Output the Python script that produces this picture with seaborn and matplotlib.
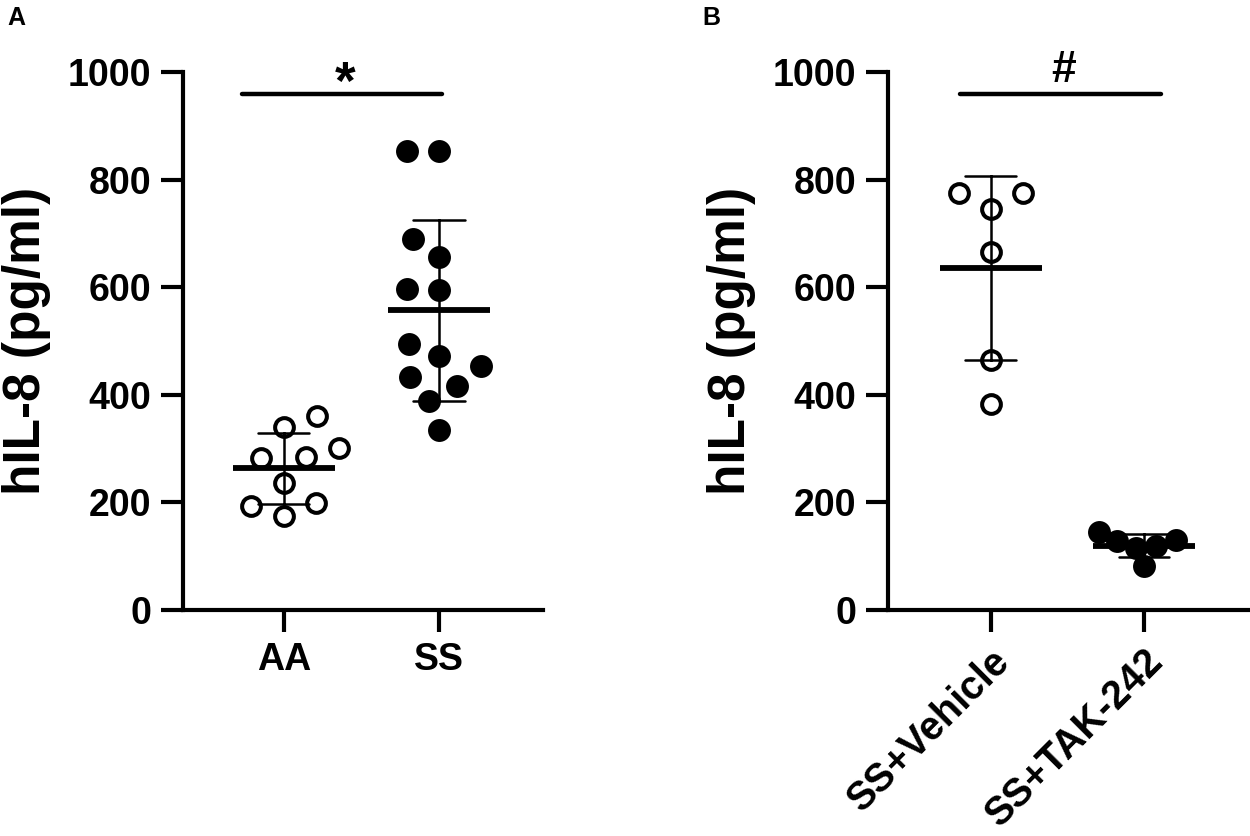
import numpy as np
import pandas as pd
import matplotlib
matplotlib.use("Agg")
import matplotlib.pyplot as plt
import seaborn as sns

# ---- data ----
aa_vals = [360, 340, 302, 282, 284, 236, 199, 193, 174]
ss_vals = [853, 853, 690, 657, 594, 597, 495, 453, 473, 434, 416, 388, 334]
veh_vals = [746, 776, 776, 666, 464, 382]
tak_vals = [119, 145, 128, 130, 115, 82]

groups_a = ["AA", "SS"]
groups_b = ["SS+Vehicle", "SS+TAK-242"]
y_ticks = [0, 200, 400, 600, 800, 1000]
y_label = "hIL-8 (pg/ml)"
sig_a = "*"
sig_b = "#"

df_a = pd.DataFrame({"group": [groups_a[0]] * len(aa_vals) + [groups_a[1]] * len(ss_vals),
                     "val": aa_vals + ss_vals})
df_b = pd.DataFrame({"group": [groups_b[0]] * len(veh_vals) + [groups_b[1]] * len(tak_vals),
                     "val": veh_vals + tak_vals})

sns.set_theme(style="ticks")
plt.rcParams["font.family"] = ["Liberation Sans", "DejaVu Sans"]
plt.rcParams["font.weight"] = "bold"
for k in ["text.color", "axes.labelcolor", "xtick.color", "ytick.color", "axes.edgecolor"]:
    plt.rcParams[k] = "black"

W, H = 1250, 836
fig = plt.figure(figsize=(W / 100, H / 100), dpi=100)

def px_axes(left, top, right, bottom):
    return fig.add_axes([left / W, 1 - bottom / H, (right - left) / W, (bottom - top) / H])

axA = px_axes(183, 72, 543, 610)
axB = px_axes(888, 72, 1250, 610)

LW = 3.0
swarm_colls = []  # (collection, final size)

def draw(ax, df, order, sig, sig_x0, sig_x1, xlim, rotate, layout_sizes, sig_y, sig_fs):
    ax.set_xlim(*xlim)
    for i, g in enumerate(order):
        sub = df[df.group == g]
        before = len(ax.collections)
        if i == 0:
            sns.swarmplot(data=sub, x="group", y="val", order=order, ax=ax,
                          color="white", edgecolor="black", linewidth=2.9,
                          size=layout_sizes[i], zorder=3)
            final = 13.5
        else:
            sns.swarmplot(data=sub, x="group", y="val", order=order, ax=ax,
                          color="black", edgecolor="black", linewidth=0,
                          size=layout_sizes[i], zorder=3)
            final = 16.5
        for c in ax.collections[before:]:
            swarm_colls.append((c, final))
    sns.pointplot(data=df, x="group", y="val", order=order, ax=ax, errorbar="sd",
                  color="black", linestyle="none", marker="_", markersize=74,
                  markeredgewidth=4.2, capsize=0.33, err_kws={"linewidth": 1.8}, zorder=5)
    ax.set_ylim(0, 1000)
    ax.set_yticks(y_ticks)
    ax.set_xlim(*xlim)
    for s in ["top", "right"]:
        ax.spines[s].set_visible(False)
    for s in ["left", "bottom"]:
        ax.spines[s].set_linewidth(LW)
        ax.spines[s].set_color("black")
    ax.tick_params(axis="both", width=LW, length=16, color="black", labelsize=27, pad=7)
    ax.set_xlabel("")
    ax.set_ylabel(y_label, fontsize=37, fontweight="bold", labelpad=12)
    for lab in ax.get_yticklabels() + ax.get_xticklabels():
        lab.set_fontweight("bold")
    if rotate:
        for lab in ax.get_xticklabels():
            lab.set_rotation(45)
            lab.set_ha("right")
            lab.set_rotation_mode("anchor")
            lab.set_fontsize(28.5)
    ax.plot([sig_x0, sig_x1], [960, 960], color="black", lw=3.2, clip_on=False)
    ax.text((sig_x0 + sig_x1) / 2 + 0.02, sig_y, sig, ha="center", va="center",
            fontsize=sig_fs, fontweight="bold", clip_on=False)

draw(axA, df_a, groups_a, sig_a, -0.27, 1.02, (-0.65, 1.67), False, (21, 22), 975, 38)
draw(axB, df_b, groups_b, sig_b, -0.2, 1.11, (-0.67, 1.69), True, (22, 14), 1002, 32)

fig.text(7 / W, 1 - 25 / H, "A", fontsize=18, fontweight="bold")
fig.text(702 / W, 1 - 25 / H, "B", fontsize=18, fontweight="bold")

# lay the swarms out with wide spacing, then freeze positions and shrink markers
fig.canvas.draw()
for c, final in swarm_colls:
    offs = np.array(c.get_offsets()).copy()
    if "draw" in c.__dict__:
        del c.draw
    c.set_offsets(offs)
    c.set_sizes([final ** 2])

fig.savefig("out.png", dpi=100, facecolor="white")
